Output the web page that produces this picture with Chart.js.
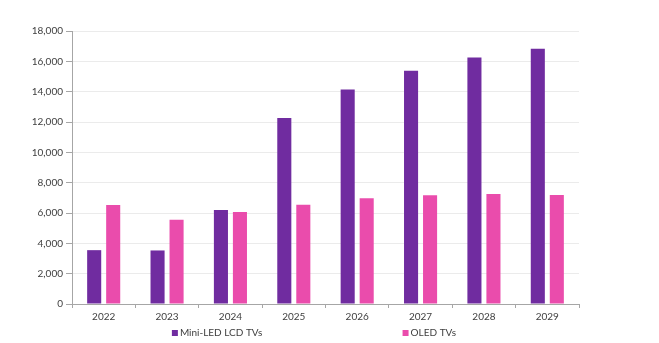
<!DOCTYPE html>
<html>
<head>
<meta charset="utf-8">
<script src="https://cdn.jsdelivr.net/npm/chart.js@4"></script>
<style>
  html, body { margin: 0; padding: 0; background: #fff; }
  #wrap { width: 659px; height: 343px; }
</style>
</head>
<body>
<div id="wrap"><canvas id="tvChart"></canvas></div>
<script>
const years = ['2022', '2023', '2024', '2025', '2026', '2027', '2028', '2029'];
const miniLedTVs = [3550, 3530, 6200, 12260, 14140, 15380, 16260, 16830];
const oledTVs = [6530, 5560, 6070, 6550, 6970, 7170, 7260, 7190];

const purple = 'rgb(112, 44, 160)';
const pink = 'rgb(234, 76, 172)';
const axisGray = '#a6a6a6';
const gridGray = '#ebebeb';
const textColor = '#404040';

Chart.defaults.font.family = 'Lato, "Open Sans", sans-serif';
Chart.defaults.font.size = 10;
Chart.defaults.color = textColor;

// legend spread wide under the plot, like the Excel original
const wideLegend = {
    id: 'wideLegend',
    afterDraw(chart, args, opts) {
        const { ctx, chartArea } = chart;
        const w = chartArea.right - chartArea.left;
        const y = chart.height - 10;
        ctx.save();
        ctx.font = '10px Lato, "Open Sans", sans-serif';
        ctx.textBaseline = 'middle';
        chart.data.datasets.forEach((ds, i) => {
            const x = chartArea.left + w * opts.starts[i];
            ctx.fillStyle = ds.backgroundColor;
            ctx.fillRect(x, y - 3, 6, 6);
            ctx.fillStyle = textColor;
            ctx.fillText(ds.label, x + 8, y);
        });
        ctx.restore();
    }
};

const ctx = document.getElementById('tvChart').getContext('2d');

new Chart(ctx, {
    type: 'bar',
    data: {
        labels: years,
        datasets: [
            {
                label: 'Mini-LED LCD TVs',
                data: miniLedTVs,
                backgroundColor: purple,
                categoryPercentage: 0.6,
                barPercentage: 0.74
            },
            {
                label: 'OLED TVs',
                data: oledTVs,
                backgroundColor: pink,
                categoryPercentage: 0.6,
                barPercentage: 0.74
            }
        ]
    },
    options: {
        responsive: true,
        maintainAspectRatio: false,
        animation: false,
        layout: { padding: { top: 31, right: 80, left: 0, bottom: 17 } },
        scales: {
            x: {
                grid: {
                    offset: true,
                    drawOnChartArea: false,
                    tickLength: 4,
                    color: axisGray
                },
                border: { color: axisGray },
                ticks: { padding: 3 }
            },
            y: {
                min: 0,
                max: 18000,
                ticks: {
                    stepSize: 2000,
                    autoSkip: false,
                    padding: 3,
                    callback: (v) => v.toLocaleString('en-US')
                },
                grid: {
                    color: gridGray,
                    tickColor: axisGray,
                    tickLength: 6
                },
                border: { color: axisGray },
                afterFit: (scale) => { scale.width = 72; }
            }
        },
        plugins: {
            legend: { display: false },
            tooltip: { enabled: false },
            wideLegend: { starts: [0.197, 0.652] }
        }
    },
    plugins: [wideLegend]
});
</script>
</body>
</html>
